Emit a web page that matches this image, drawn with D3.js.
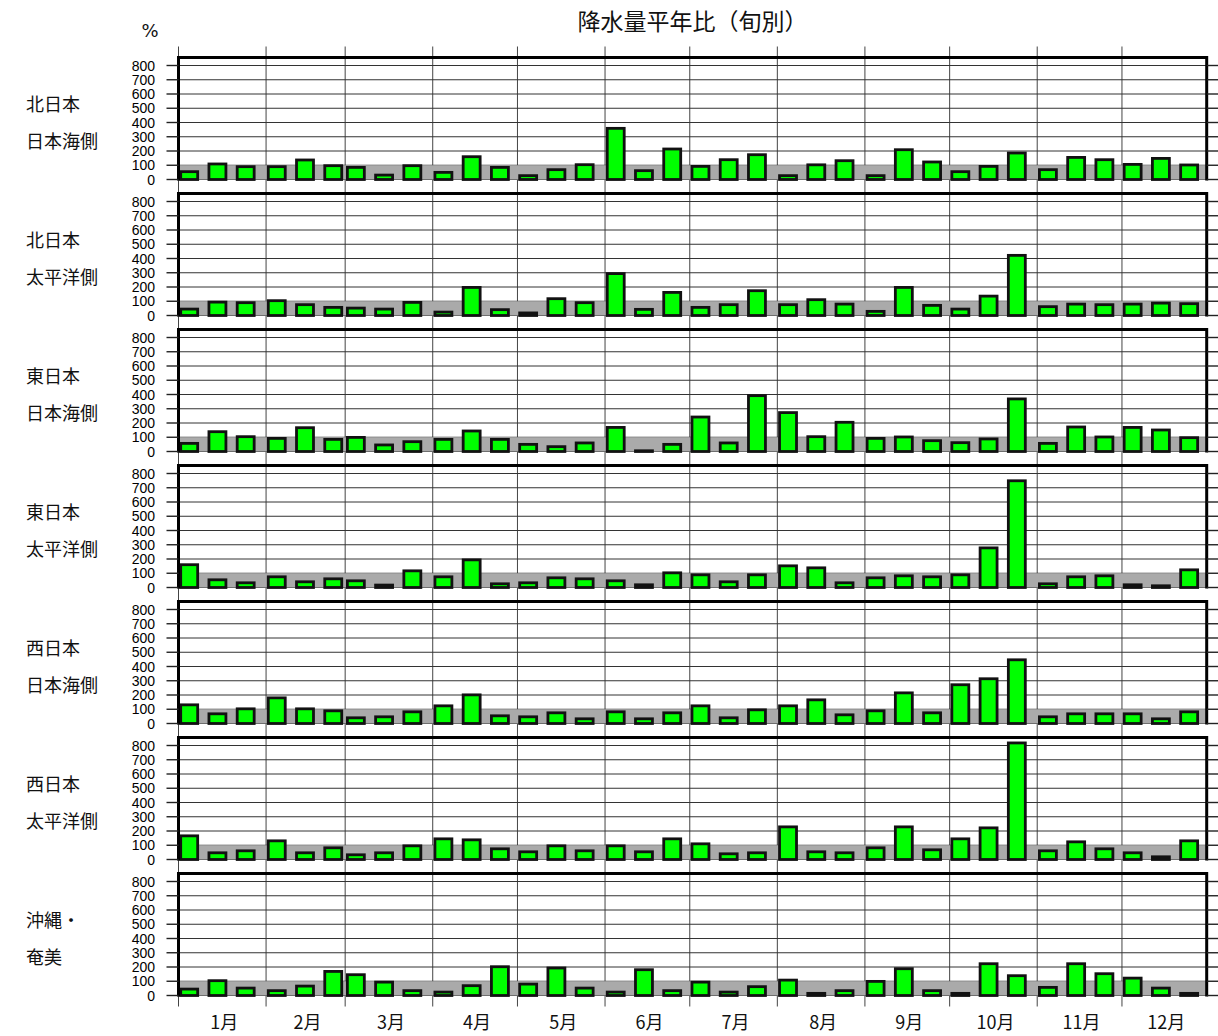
<!DOCTYPE html>
<html>
<head>
<meta charset="utf-8">
<script src="https://cdn.jsdelivr.net/npm/d3@7"></script>
<style>
body { margin: 0; background: #fff; }
</style>
</head>
<body>
<script>
// month labels, y ticks, region names
var months = ["1月","2月","3月","4月","5月","6月","7月","8月","9月","10月","11月","12月"]
var yTicks = [0, 100, 200, 300, 400, 500, 600, 700, 800]
var regionTop = ["北日本","北日本","東日本","東日本","西日本","西日本","沖縄・"]
var regionBottom = ["日本海側","太平洋側","日本海側","太平洋側","日本海側","太平洋側","奄美"]

// precipitation ratio to normal (%), 3 dekads per month
var northJapanSea = [55,109,90, 90,137,97, 85,31,97, 50,160,85, 27,69,104, 359,62,214,
                     92,139,174, 27,103,132, 27,209,123, 55,92,186, 69,155,139, 106,148,102]
var northPacific  = [45,94,90, 104,76,57, 52,45,92, 24,197,41, 18,118,90, 294,43,162,
                     57,76,174, 76,111,80, 29,197,71, 45,136,422, 62,80,76, 80,87,83]
var eastJapanSea  = [57,139,104, 92,167,85, 99,46,69, 85,144,85, 50,34,60, 169,5,50,
                     242,60,392, 273,104,205, 92,102,76, 62,88,369, 57,172,102, 169,151,97]
var eastPacific   = [160,54,33, 75,40,61, 47,17,117, 75,194,26, 33,68,61, 47,19,103,
                     89,40,89, 152,138,33, 68,82,75, 89,278,749, 26,75,82, 19,12,124]
var westJapanSea  = [131,68,103, 180,103,89, 40,47,82, 124,201,54, 47,75,33, 82,33,75,
                     124,40,96, 124,166,61, 89,215,75, 272,314,447, 47,68,68, 68,33,82]
var westPacific   = [166,47,61, 131,47,82, 33,47,96, 145,138,75, 54,96,61, 96,54,145,
                     110,40,47, 229,54,47, 82,229,68, 145,222,818, 61,124,75, 47,19,131]
var okinawaAmami  = [45,104,52, 34,66,169, 146,94,34, 24,69,202, 80,193,52, 24,181,34,
                     94,24,62, 108,15,34, 99,188,34, 15,223,139, 57,223,153, 122,52,15]

var series = [northJapanSea, northPacific, eastJapanSea, eastPacific, westJapanSea, westPacific, okinawaAmami]

var width = 1218
var height = 1036
var left = 178.5
var right = 1206.7
var firstZero = 179.5
var pitch = 136
var plotH = 114
var frameH = 122
var barStroke = 2.8

var xScale = d3.scaleTime()
               .domain([new Date(2023, 0, 1), new Date(2023, 11, 31)])
               .range([left, right])

var monthStarts = months.map(function(m, i) { return new Date(2023, i, 1) })
var dekads = d3.range(36).map(function(i) {
  return new Date(2023, Math.floor(i / 3), 1 + (i % 3) * 10)
})
var weekPx = xScale(new Date(2023, 0, 8)) - xScale(new Date(2023, 0, 1))

var svg = d3.select("body")
            .append("svg")
            .attr("width", width)
            .attr("height", height)
            .style("font-family", "'Liberation Sans', Arial, sans-serif")

svg.append("rect").attr("width", width).attr("height", height).attr("fill", "#fff")

// title and unit
svg.append("text")
   .attr("x", (left + right) / 2)
   .attr("y", 20)
   .attr("text-anchor", "middle")
   .attr("dominant-baseline", "central")
   .attr("font-family", "'Noto Sans CJK JP', sans-serif")
   .attr("font-size", 23)
   .attr("fill", "#111")
   .text("降水量平年比（旬別）")

svg.append("text")
   .attr("x", 150)
   .attr("y", 30)
   .attr("text-anchor", "middle")
   .attr("dominant-baseline", "central")
   .attr("font-family", "'DejaVu Sans', sans-serif")
   .attr("font-size", 18)
   .attr("fill", "#111")
   .text("%")

var lastZero = firstZero + pitch * (series.length - 1)

// month lines run through every panel
svg.selectAll("line.month")
   .data(monthStarts)
   .enter()
   .append("line")
   .attr("class", "month")
   .attr("x1", function(d) { return xScale(d) })
   .attr("x2", function(d) { return xScale(d) })
   .attr("y1", firstZero - frameH - 11)
   .attr("y2", lastZero + 11)
   .attr("stroke", "#444")
   .attr("stroke-width", 1)

series.forEach(function(values, p) {
  var zero = firstZero + pitch * p
  var yScale = d3.scaleLinear()
                 .domain([0, 800])
                 .range([zero, zero - plotH])
  var g = svg.append("g")

  // horizontal grid
  g.selectAll("line.grid")
   .data(yTicks)
   .enter()
   .append("line")
   .attr("x1", left)
   .attr("x2", right)
   .attr("y1", function(d) { return yScale(d) })
   .attr("y2", function(d) { return yScale(d) })
   .attr("stroke", "#333")
   .attr("stroke-width", 1)

  // normal band
  g.append("rect")
   .attr("x", left)
   .attr("y", yScale(100))
   .attr("width", right - left)
   .attr("height", yScale(0) - yScale(100))
   .attr("fill", "#aaaaaa")

  // bars
  g.selectAll("rect.bar")
   .data(values)
   .enter()
   .append("rect")
   .attr("class", "bar")
   .attr("x", function(d, i) { return xScale(dekads[i]) + 0.8 + barStroke / 2 })
   .attr("y", function(d) { return yScale(d) })
   .attr("width", weekPx - barStroke)
   .attr("height", function(d) { return yScale(0) - yScale(d) })
   .attr("fill", "#00ff00")
   .attr("stroke", "#111")
   .attr("stroke-width", barStroke)

  // frame: top, left, right
  var top = zero - frameH
  g.append("path")
   .attr("d", "M" + left + "," + (zero + 1) + "V" + top + "H" + right + "V" + (zero + 1))
   .attr("fill", "none")
   .attr("stroke", "#000")
   .attr("stroke-width", 3)

  // ticks both sides
  g.selectAll("line.tl")
   .data(yTicks)
   .enter()
   .append("line")
   .attr("x1", left - 12)
   .attr("x2", left)
   .attr("y1", function(d) { return yScale(d) })
   .attr("y2", function(d) { return yScale(d) })
   .attr("stroke", "#222")
   .attr("stroke-width", 1.4)
  g.selectAll("line.tr")
   .data(yTicks)
   .enter()
   .append("line")
   .attr("x1", right)
   .attr("x2", right + 12)
   .attr("y1", function(d) { return yScale(d) })
   .attr("y2", function(d) { return yScale(d) })
   .attr("stroke", "#222")
   .attr("stroke-width", 1.4)

  g.selectAll("text.tick")
   .data(yTicks)
   .enter()
   .append("text")
   .attr("x", 155)
   .attr("y", function(d) { return yScale(d) })
   .attr("dy", "0.36em")
   .attr("text-anchor", "end")
   .attr("font-size", 14)
   .attr("fill", "#000")
   .text(function(d) { return d })

  // region name
  g.append("text")
   .attr("x", 26)
   .attr("y", zero - 77)
   .attr("dominant-baseline", "central")
   .attr("font-family", "'Noto Sans CJK JP', sans-serif")
   .attr("font-size", 18)
   .attr("fill", "#111")
   .text(regionTop[p])
  g.append("text")
   .attr("x", 26)
   .attr("y", zero - 40)
   .attr("dominant-baseline", "central")
   .attr("font-family", "'Noto Sans CJK JP', sans-serif")
   .attr("font-size", 18)
   .attr("fill", "#111")
   .text(regionBottom[p])
})

// month labels
svg.selectAll("text.mon")
   .data(months)
   .enter()
   .append("text")
   .attr("x", function(d, i) {
     var a = xScale(monthStarts[i])
     var b = i < 11 ? xScale(monthStarts[i + 1]) : right
     return (a + b) / 2 + 2
   })
   .attr("y", lastZero + 25)
   .attr("text-anchor", "middle")
   .attr("dominant-baseline", "central")
   .attr("font-family", "'Noto Sans CJK JP', sans-serif")
   .attr("font-size", 18)
   .attr("fill", "#111")
   .text(function(d) { return d })
</script>
</body>
</html>
